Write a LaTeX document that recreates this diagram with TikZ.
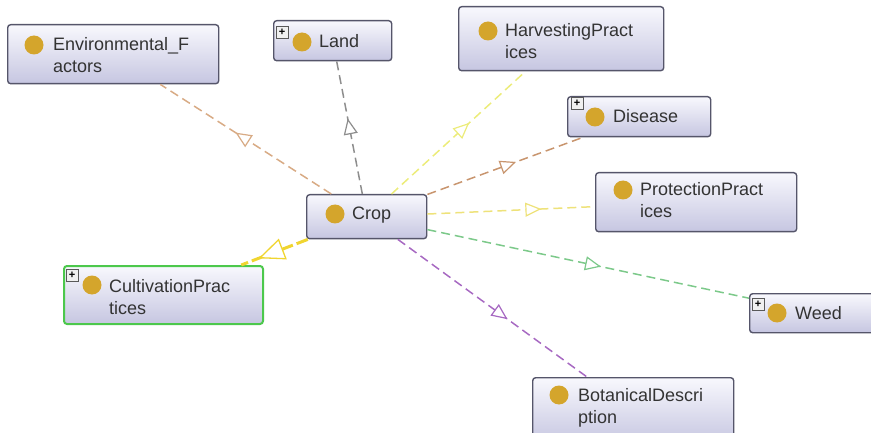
\documentclass[tikz,border=0pt]{standalone}
\usepackage{fontspec}
\setmainfont{Liberation Sans}
\usetikzlibrary{arrows.meta,decorations.markings}

\definecolor{boxline}{HTML}{55556A}
\definecolor{boxtop}{HTML}{F8F8FD}
\definecolor{boxbot}{HTML}{C6C6E1}
\definecolor{dotfill}{HTML}{D4A52C}
\definecolor{labeltext}{HTML}{333333}
\definecolor{selgreen}{HTML}{4CC84C}
\definecolor{cEnv}{HTML}{D8AB85}
\definecolor{cLand}{HTML}{8E8E8E}
\definecolor{cHarv}{HTML}{ECEC7A}
\definecolor{cDis}{HTML}{C8956E}
\definecolor{cProt}{HTML}{EEE27A}
\definecolor{cWeed}{HTML}{7CC98A}
\definecolor{cBot}{HTML}{A769C2}
\definecolor{cCult}{HTML}{F0D530}

\tikzset{
  cls/.style={draw=boxline, line width=1.4pt, rounded corners=3pt,
    top color=boxtop, bottom color=boxbot, anchor=north west,
    inner sep=0pt},
  selected/.style={draw=selgreen, line width=2pt},
  dotmark/.style={circle, fill=dotfill, minimum size=19pt, inner sep=0pt},
  plusbox/.style={draw=gray!70!black, fill=gray!12, line width=0.7pt,
    minimum size=12pt, inner sep=0pt, font=\fontsize{11}{11}\selectfont\bfseries},
  lbl/.style={anchor=base west, inner sep=0pt, text=labeltext,
    font=\fontsize{18}{22}\selectfont},
  edge/.style={line width=1.5pt, dash pattern=on 9pt off 5pt},
  midtip/.style 2 args={postaction={decorate, decoration={markings,
    mark=at position #1 with {\arrow[solid, line width=1.2pt]{Triangle[fill=white, length=16pt, width=14pt]}}}}},
}

\begin{document}
\begin{tikzpicture}[x=1pt, y=-1pt]
\useasboundingbox (0,0) rectangle (871,433);
\clip (0,0) rectangle (871,433);

% class boxes
\node[cls, minimum width=211pt, minimum height=59pt] (env)  at (7,24) {};
\node[cls, minimum width=118pt, minimum height=40pt] (land) at (273,20) {};
\node[cls, minimum width=205pt, minimum height=64pt] (harv) at (458,6) {};
\node[cls, minimum width=143pt, minimum height=40pt] (dis)  at (567,96) {};
\node[cls, minimum width=201pt, minimum height=59pt] (prot) at (595,172) {};
\node[cls, minimum width=120pt, minimum height=44pt] (crop) at (306,194) {};
\node[cls, selected, minimum width=199pt, minimum height=58pt] (cult) at (63,265) {};
\node[cls, minimum width=140pt, minimum height=39pt] (weed) at (749,293) {};
\node[cls, minimum width=201pt, minimum height=66pt] (bot)  at (532,377) {};

% relations from Crop, each with an open triangle head midway
\draw[edge, cEnv,  midtip={0.56}{}] (crop) -- (env);
\draw[edge, cLand, midtip={0.57}{}] (crop) -- (land);
\draw[edge, cHarv, midtip={0.58}{}] (crop) -- (harv);
\draw[edge, cDis,  midtip={0.57}{}] (crop) -- (dis);
\draw[edge, cProt, midtip={0.68}{}] (crop) -- (prot);
\draw[edge, cWeed, midtip={0.54}{}] (crop) -- (weed);
\draw[edge, cBot,  midtip={0.58}{}] (crop) -- (bot);
\draw[edge, cCult, line width=3pt, dash pattern=on 12pt off 4pt] (crop) -- (cult)
  [postaction={decorate, decoration={markings,
    mark=at position 0.74 with {\arrow[solid, line width=1.3pt]{Triangle[fill=white, length=26pt, width=22pt]}}}}];

% expand markers
\node[plusbox] (land-plus) at (282,32) {+};
\node[plusbox] (dis-plus)  at (577,103) {+};
\node[plusbox] (cult-plus) at (72,275) {+};
\node[plusbox] (weed-plus) at (758,304) {+};

% class dots
\node[dotmark] (env-dot)  at (34,45) {};
\node[dotmark] (land-dot) at (302,42) {};
\node[dotmark] (harv-dot) at (488,31) {};
\node[dotmark] (dis-dot)  at (595,117) {};
\node[dotmark] (prot-dot) at (623,190) {};
\node[dotmark] (crop-dot) at (335,214) {};
\node[dotmark] (cult-dot) at (92,285) {};
\node[dotmark] (weed-dot) at (777,313) {};
\node[dotmark] (bot-dot)  at (559,395) {};

% class names
\node[lbl] (env-a)  at (53,51)  {Environmental\_F};
\node[lbl] (env-b)  at (53,73)  {actors};
\node[lbl] (land-a) at (319,48) {Land};
\node[lbl] (harv-a) at (505,37) {HarvestingPract};
\node[lbl] (harv-b) at (505,59) {ices};
\node[lbl] (dis-a)  at (613,123) {Disease};
\node[lbl] (prot-a) at (640,196) {ProtectionPract};
\node[lbl] (prot-b) at (640,218) {ices};
\node[lbl] (crop-a) at (352,220) {Crop};
\node[lbl] (cult-a) at (109,292) {CultivationPrac};
\node[lbl] (cult-b) at (109,314) {tices};
\node[lbl] (weed-a) at (795,319) {Weed};
\node[lbl] (bot-a)  at (578,401) {BotanicalDescri};
\node[lbl] (bot-b)  at (578,423) {ption};
\end{tikzpicture}
\end{document}
